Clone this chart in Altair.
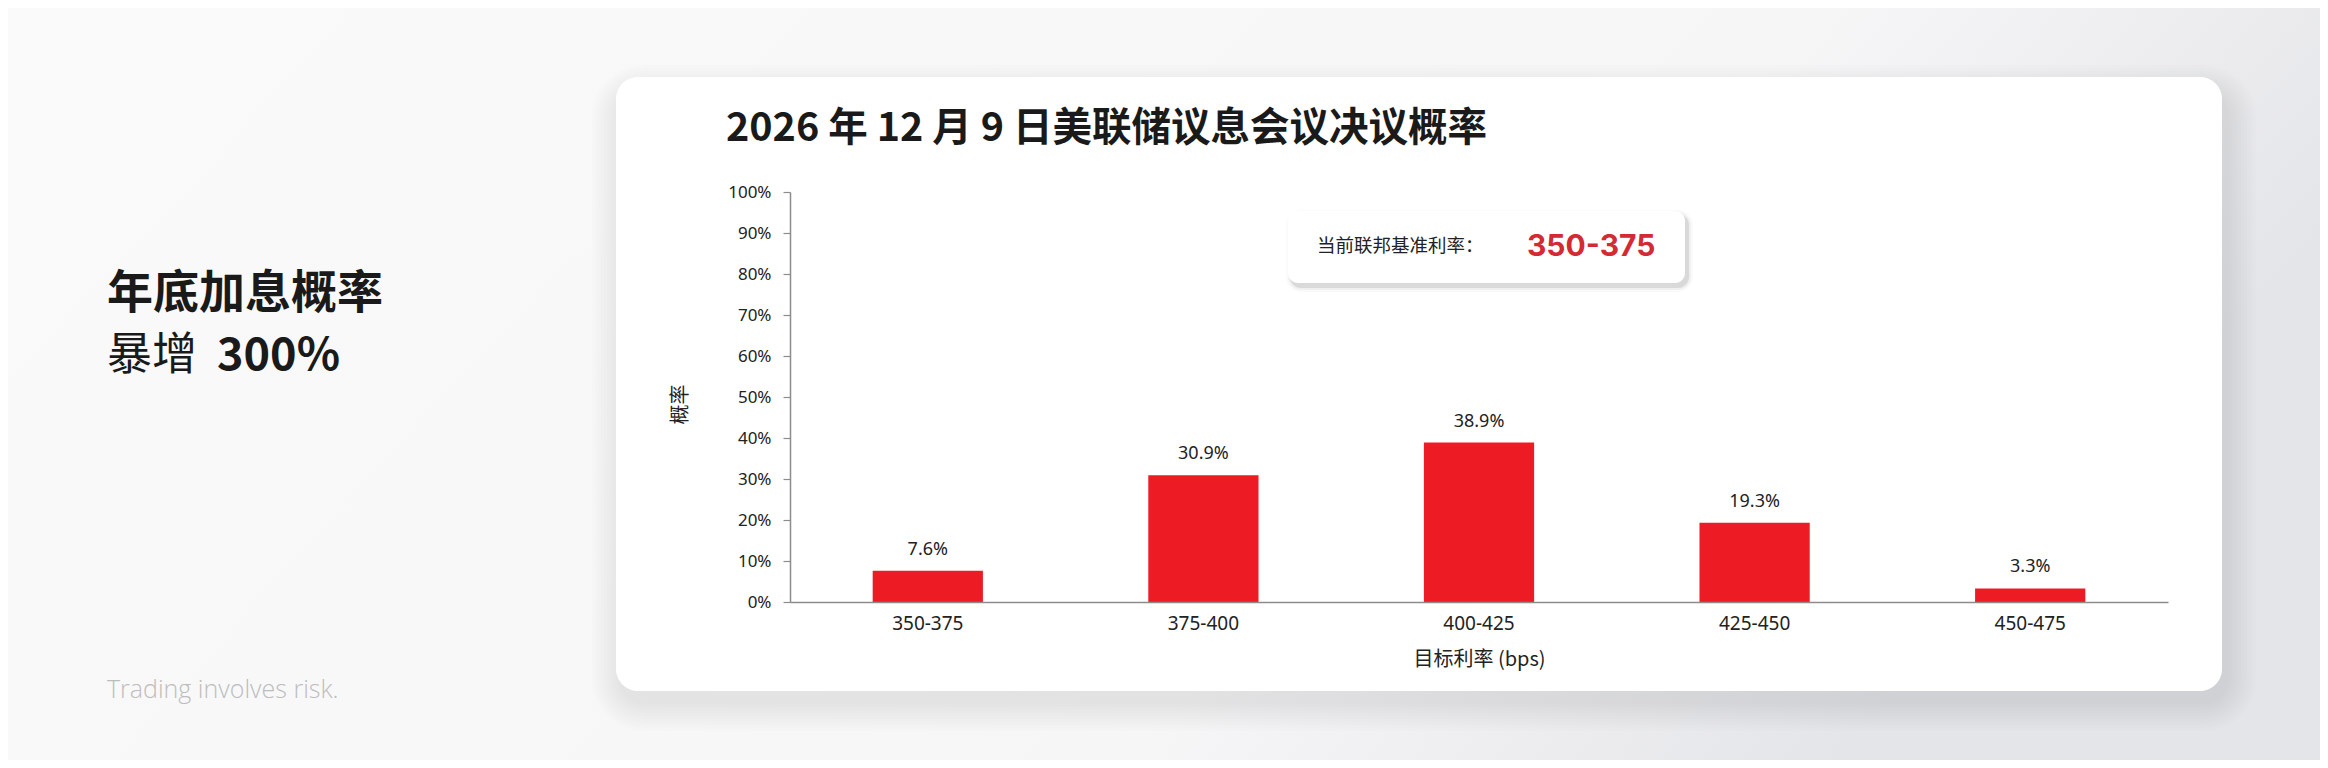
import altair as alt
import pandas as pd

# ---- data ----
rate_ranges = ["350-375", "375-400", "400-425", "425-450", "450-475"]
probabilities = [7.6, 30.9, 38.9, 19.3, 3.3]  # percent

chart_title = "2026 年 12 月 9 日美联储议息会议决议概率"
headline_1 = "年底加息概率"
headline_2a = "暴增"
headline_2b = "300%"
disclaimer = "Trading involves risk."
callout_label = "当前联邦基准利率："
callout_value = "350-375"
x_title = "目标利率 (bps)"
y_title = "概率"

df = pd.DataFrame({
    "rate": rate_ranges,
    "prob": [p / 100 for p in probabilities],
    "label": [f"{p:.1f}%" for p in probabilities],
})

CJK = "Noto Sans CJK SC"
LAT = "Noto Sans"
one = pd.DataFrame({"k": [0]})

W, H = 1378, 410  # plot area


def rect(x, x2, y, y2, **kw):
    return alt.Chart(one).mark_rect(**kw).encode(
        x=alt.value(x), x2=alt.value(x2), y=alt.value(y), y2=alt.value(y2)
    )


def text(x, y, s, **kw):
    return alt.Chart(one).mark_text(text=s, align="left", baseline="middle", **kw).encode(
        x=alt.value(x), y=alt.value(y)
    )


layers = []

# page background gradient
layers.append(rect(-782, 1530, -184, 568, fill=alt.LinearGradient(
    gradient="linear", x1=0, y1=0, x2=1, y2=0.3,
    stops=[alt.GradientStop(color="#fafafa", offset=0),
           alt.GradientStop(color="#f6f6f7", offset=0.72),
           alt.GradientStop(color="#e4e5e8", offset=1)])))

# soft card shadow
cx0, cx1, cy0, cy1 = -174, 1432, -115, 499
for i in range(1, 11):
    e = 3 * i
    layers.append(rect(cx0 - e + 6, cx1 + e + 4, cy0 - e + 18, cy1 + e + 10,
                       fill="#000000", opacity=0.0065, cornerRadius=22 + e))

# card
layers.append(rect(cx0, cx1, cy0, cy1, fill="#ffffff", cornerRadius=22))

# callout box with shadow
bx0, bx1, by0, by1 = 498, 895, 19, 91
for i, op in [(1, 0.09), (3, 0.04), (5, 0.02)]:
    layers.append(rect(bx0 - i + 3, bx1 + i + 3, by0 - i + 4, by1 + i + 4,
                       fill="#000000", opacity=op, cornerRadius=10 + i))
layers.append(rect(bx0, bx1, by0, by1, fill="#ffffff", cornerRadius=10))
layers.append(text(527, 54, callout_label, font=CJK, fontSize=18.5, color="#222222"))
layers.append(text(737, 55, callout_value, font="Inter", fontSize=30,
                   fontWeight="bold", color="#d42a34"))

# titles and side texts
layers.append(text(-64, -63, chart_title, font=CJK, fontSize=39.5, fontWeight="bold",
                   color="#1a1a1a"))
layers.append(text(-683, 102, headline_1, font=CJK, fontSize=46, fontWeight="bold",
                   color="#1a1a1a"))
layers.append(text(-683, 164, headline_2a, font=CJK, fontSize=45, fontWeight="normal",
                   color="#1a1a1a"))
layers.append(text(-573, 164, headline_2b, font=CJK, fontSize=45, fontWeight="bold",
                   color="#1a1a1a"))
layers.append(text(-683, 498, disclaimer, font="Open Sans", fontSize=25,
                   fontWeight=300, color="#bdbdbd"))

# bars
x_enc = alt.X("rate:N", sort=rate_ranges,
              scale=alt.Scale(paddingInner=0.6, paddingOuter=0.3),
              axis=alt.Axis(title=x_title, labelAngle=0, ticks=False, labelPadding=12,
                            labelFontSize=19, labelFont=LAT, labelColor="#222222",
                            titleFont=CJK, titleFontSize=20, titleColor="#222222",
                            titleFontWeight="normal", titlePadding=16,
                            domainColor="#8c8c8c", domainWidth=1.5, zindex=2))
y_enc = alt.Y("prob:Q", scale=alt.Scale(domain=[0, 1], nice=False),
              axis=alt.Axis(title=y_title, format=".0%",
                            values=[i / 10 for i in range(11)], grid=False,
                            tickSize=7, tickColor="#8c8c8c", tickWidth=1.2,
                            labelPadding=12, labelFontSize=17, labelFont=LAT,
                            labelColor="#222222", domainColor="#8c8c8c", domainWidth=1.5,
                            titleFont=CJK, titleFontSize=20, titleColor="#222222",
                            titleFontWeight="normal", titleX=-110, titleY=212,
                            titleAngle=-90, titleAlign="center", titleBaseline="middle",
                            zindex=2))

bars = alt.Chart(df).mark_bar(color="#ed1c24").encode(x=x_enc, y=y_enc)
labels = alt.Chart(df).mark_text(dy=-21, baseline="middle", font=LAT, fontSize=18,
                                 color="#222222").encode(
    x=alt.X("rate:N", sort=rate_ranges), y="prob:Q", text="label:N")

layers += [bars, labels]

chart = alt.layer(*layers).properties(
    width=W, height=H,
    autosize=alt.AutoSizeParams(type="none"),
    padding={"left": 782, "top": 184, "right": 152, "bottom": 158},
    background="#f7f7f7",
).configure_view(stroke=None)

chart.save("out.html", embed_options={"renderer": "svg", "actions": False})
